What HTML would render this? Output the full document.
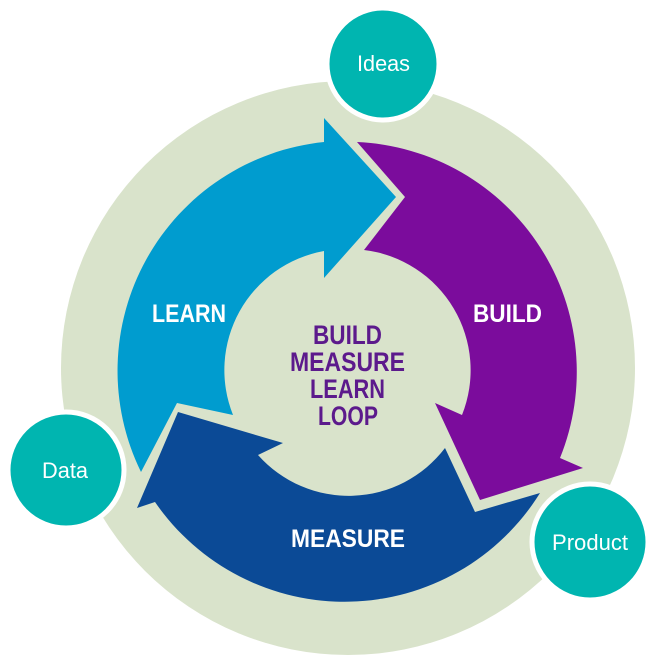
<!DOCTYPE html>
<html><head><style>
html,body{margin:0;padding:0;background:#fff;}
svg{display:block;}
text{font-family:"Liberation Sans",sans-serif;font-weight:bold;}
</style></head><body>
<svg width="663" height="663" viewBox="0 0 663 663" xmlns="http://www.w3.org/2000/svg">
<circle cx="348" cy="368" r="287" fill="#d9e3cb"/>
<path d="M141,472 A230 230 0 0 1 324,142 L324,118 L396,197 L324,278 L324,251 A121 121 0 0 0 233,415 L177,403 Z" fill="#009ccf"/>
<path d="M357,142 A230 230 0 0 1 560,458 L583,468 L480,500 L435,403 L462,415 A121 121 0 0 0 364,250 L405,197 Z" fill="#7b0c9c"/>
<path d="M540,493 A230 230 0 0 1 155,502 L137,508 L178,412 L283,443 L258,455 A121 121 0 0 0 445,448 L475,512 Z" fill="#0b4a96"/>
<circle cx="383" cy="64" r="56" fill="#00b5b0" stroke="#fff" stroke-width="5"/>
<circle cx="66" cy="470" r="58" fill="#00b5b0" stroke="#fff" stroke-width="5"/>
<circle cx="590" cy="542" r="58" fill="#00b5b0" stroke="#fff" stroke-width="5"/>
<g fill="#fff" font-size="22" style="font-weight:normal">
<text x="357" y="71" textLength="53" lengthAdjust="spacingAndGlyphs" style="font-weight:normal">Ideas</text>
<text x="42" y="478" textLength="46" lengthAdjust="spacingAndGlyphs" style="font-weight:normal">Data</text>
<text x="552" y="550" textLength="76" lengthAdjust="spacingAndGlyphs" style="font-weight:normal">Product</text>
</g>
<g fill="#fff" font-size="25">
<text x="152" y="322" textLength="74" lengthAdjust="spacingAndGlyphs">LEARN</text>
<text x="473" y="322" textLength="69" lengthAdjust="spacingAndGlyphs">BUILD</text>
<text x="291" y="547" textLength="114" lengthAdjust="spacingAndGlyphs">MEASURE</text>
</g>
<g fill="#5c1a8c" font-size="27">
<text x="313" y="344" textLength="69" lengthAdjust="spacingAndGlyphs">BUILD</text>
<text x="290" y="371" textLength="115" lengthAdjust="spacingAndGlyphs">MEASURE</text>
<text x="310" y="398" textLength="75" lengthAdjust="spacingAndGlyphs">LEARN</text>
<text x="318" y="425" textLength="60" lengthAdjust="spacingAndGlyphs">LOOP</text>
</g>
</svg>
</body></html>
